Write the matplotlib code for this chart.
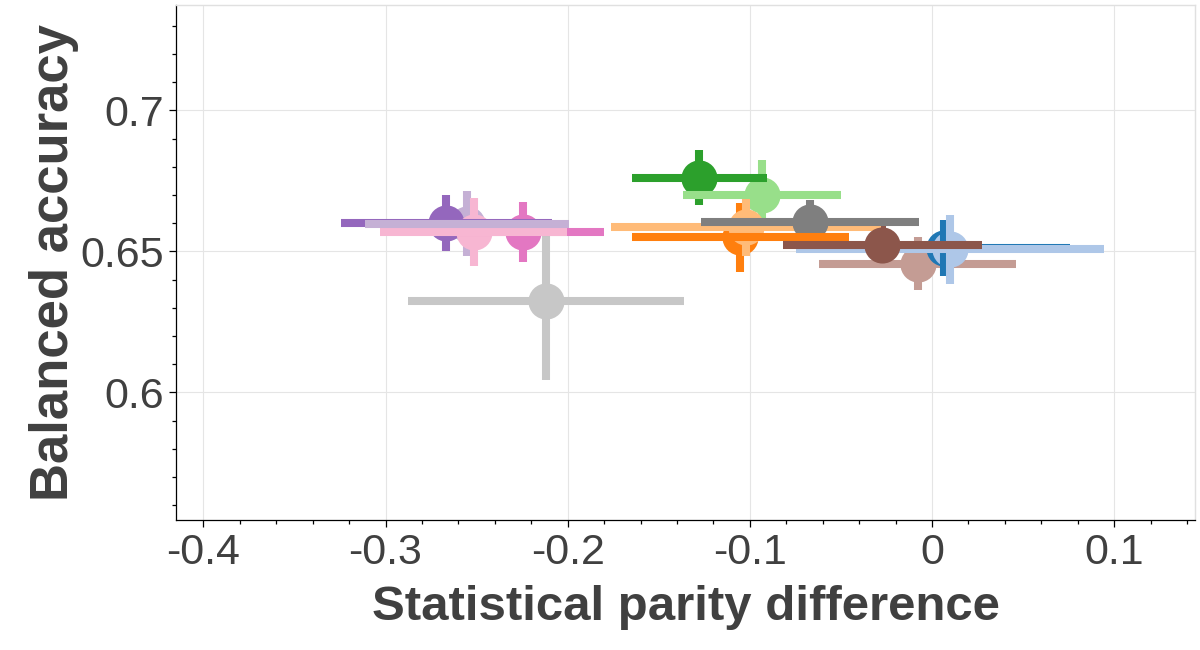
import matplotlib
matplotlib.use("Agg")
import matplotlib.pyplot as plt
from matplotlib.ticker import MultipleLocator, FuncFormatter

plt.rcParams['font.family'] = ['Liberation Sans', 'DejaVu Sans']

# one entry per model, colours follow tab20 pairs
names = ['blue', 'lblue', 'orange', 'lorange', 'green', 'lgreen', 'purple',
         'lpurple', 'brown', 'lbrown', 'pink', 'lpink', 'gray', 'lgray']
spd = [0.0066, 0.0099, -0.1052, -0.1020, -0.1277, -0.0933, -0.2667,
       -0.2554, -0.0273, -0.0079, -0.2247, -0.2517, -0.0670, -0.2119]
spd_err = [0.069, 0.0844, 0.0596, 0.074, 0.0369, 0.0434, 0.058,
           0.056, 0.0546, 0.054, 0.0447, 0.0513, 0.060, 0.076]
bal_acc = [0.6512, 0.6507, 0.6550, 0.6588, 0.6762, 0.6699, 0.6600,
           0.6599, 0.6522, 0.6457, 0.6569, 0.6568, 0.6606, 0.6323]
bal_acc_err = [0.0100, 0.0121, 0.0123, 0.0104, 0.0098, 0.0124, 0.0100,
               0.0117, 0.0081, 0.0093, 0.0107, 0.0121, 0.0075, 0.0279]

colors = {
    'blue': '#1f77b4', 'lblue': '#aec7e8', 'orange': '#ff7f0e', 'lorange': '#ffbb78',
    'green': '#2ca02c', 'lgreen': '#98df8a', 'purple': '#9467bd', 'lpurple': '#c5b0d5',
    'brown': '#8c564b', 'lbrown': '#c49c94', 'pink': '#e377c2', 'lpink': '#f7b6d2',
    'gray': '#7f7f7f', 'lgray': '#c7c7c7',
}
# stacking of (marker, vertical bar, horizontal bar) so overlaps look right
layers = {
    'blue': (3.05, 3.1, 2.9), 'lblue': (3.08, 3.1, 3.2),
    'orange': (2.0, 2.0, 3.1), 'lorange': (2.1, 2.1, 3.0),
    'green': (2.0, 2.0, 3.0), 'lgreen': (2.0, 2.0, 3.0),
    'purple': (2.1, 2.1, 3.0), 'lpurple': (2.0, 2.0, 3.3),
    'brown': (3.35, 2.0, 3.3), 'lbrown': (2.0, 2.0, 3.0),
    'pink': (2.0, 2.0, 3.0), 'lpink': (2.2, 2.2, 3.2),
    'gray': (3.05, 3.05, 3.2), 'lgray': (2.0, 2.0, 2.9),
}

text_col = '#404040'

fig = plt.figure(figsize=(12, 6.5), dpi=100)
ax = fig.add_axes([0.1467, 0.1995, 0.849, 0.7923])

for i, name in enumerate(names):
    c = colors[name]
    zm, zv, zh = layers[name]
    ax.errorbar(spd[i], bal_acc[i], yerr=bal_acc_err[i], fmt='none',
                ecolor=c, elinewidth=5.8, capsize=0, zorder=zv)
    ax.errorbar(spd[i], bal_acc[i], xerr=spd_err[i], fmt='none',
                ecolor=c, elinewidth=5.8, capsize=0, zorder=zh)
    ax.plot(spd[i], bal_acc[i], 'o', color=c, markersize=26,
            markeredgewidth=0, zorder=zm)

ax.set_xlim(-0.415, 0.1443)
ax.set_ylim(0.5546, 0.7373)

ax.xaxis.set_major_locator(MultipleLocator(0.1))
ax.xaxis.set_minor_locator(MultipleLocator(0.02))
ax.yaxis.set_major_locator(MultipleLocator(0.05))
ax.yaxis.set_minor_locator(MultipleLocator(0.01))
fmt = FuncFormatter(lambda v, p: ('%g' % round(v, 3)))
ax.xaxis.set_major_formatter(fmt)
ax.yaxis.set_major_formatter(fmt)

ax.grid(True, which='major', color='#e5e5e5', linewidth=0.8, zorder=0)
ax.set_axisbelow(True)

for side in ['top', 'right']:
    ax.spines[side].set_color('#e0e0e0')
    ax.spines[side].set_linewidth(1.0)
for side in ['left', 'bottom']:
    ax.spines[side].set_color('black')
    ax.spines[side].set_linewidth(0.9)

ax.tick_params(which='major', direction='out', length=5, width=0.9,
               labelsize=31, labelcolor=text_col, pad=4)
ax.tick_params(which='minor', direction='out', length=3, width=0.9)
ax.tick_params(top=False, right=False, which='both')

ax.set_xlabel('Statistical parity difference', fontsize=35.4,
              fontweight='bold', color=text_col, labelpad=9)
ax.set_ylabel('Balanced accuracy', fontsize=38,
              fontweight='bold', color=text_col, labelpad=1)

fig.savefig('out.png', dpi=100)
